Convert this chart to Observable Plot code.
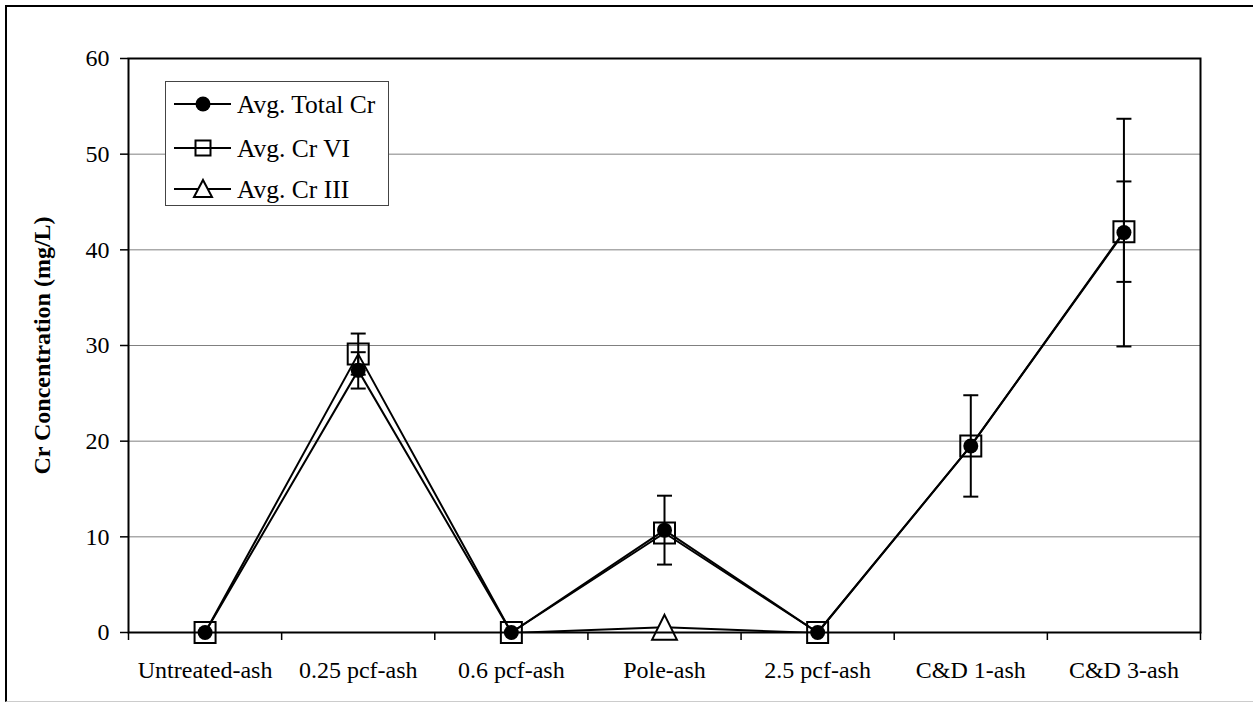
<!DOCTYPE html>
<html><head><meta charset="utf-8">
<script src="https://cdn.jsdelivr.net/npm/d3@7"></script>
<script src="https://cdn.jsdelivr.net/npm/@observablehq/plot@0.6"></script>
<style>
body{margin:0;background:#fff;}
#wrap{position:relative;width:1253px;height:703px;overflow:hidden;font-family:"Liberation Serif","Times New Roman",serif;}
#chart{position:absolute;left:0;top:0;}
#border{position:absolute;left:5px;top:5px;width:1262px;height:697px;border-left:2px solid #000;border-top:2px solid #000;border-bottom:1px solid #ccc;box-sizing:border-box;pointer-events:none}
#legend{position:absolute;left:165px;top:81px;width:224px;height:125px;border:1.5px solid #444;background:#fff;box-sizing:border-box}
</style></head><body>
<div id="wrap"><div id="chart"></div><div id="border"></div><div id="legend"></div></div>
<script>
// ---- data ----
const categories = ["Untreated-ash", "0.25 pcf-ash", "0.6 pcf-ash", "Pole-ash", "2.5 pcf-ash", "C&D 1-ash", "C&D 3-ash"];
const seriesNames = ["Avg. Total Cr", "Avg. Cr VI", "Avg. Cr III"];
const totalCr = [0, 27.4, 0, 10.7, 0, 19.5, 41.8];
const crVI    = [0, 29.1, 0, 10.4, 0, 19.5, 41.9];
// Cr III = total - VI; values below 0 fall outside the axis and are not drawn
const crIII   = [-0.05, -1.7, -0.05, 0.55, -0.05, -0.1, -0.1];
const totalErr = [0, 1.9, 0, 3.6, 0, 5.3, 11.9];
const crVIErr  = [0, 2.15, 0, 0, 0, 0, 5.25];
const yTicks = [0, 10, 20, 30, 40, 50, 60];
const gridTicks = [10, 20, 30, 40, 50];
const yTitle = "Cr Concentration (mg/L)";

// ---- build tables ----
const idx = categories.map((_, i) => i);
const bounds = d3.range(-0.5, categories.length, 1);
const mk = (vals, errs) => vals.map((v, i) => ({i, v, e: errs ? errs[i] : 0}));
const dTotal = mk(totalCr, totalErr);
const dVI = mk(crVI, crVIErr);
const dIII = mk(crIII);
const errRows = [...dTotal, ...dVI].filter(d => d.e > 0);

// custom marker shapes
const capSym = {draw(c){ c.moveTo(-7.5,0); c.lineTo(7.5,0); }};
const squareSym = {draw(c){ c.moveTo(-10.5,-10.5); c.lineTo(10.5,-10.5); c.lineTo(10.5,10.5); c.lineTo(-10.5,10.5); c.closePath(); }};
const triSym = {draw(c){ c.moveTo(0,-12.4); c.lineTo(12.4,12.4); c.lineTo(-12.4,12.4); c.closePath(); }};

const plot = Plot.plot({
  width: 1253, height: 703,
  marginLeft: 128, marginRight: 53, marginTop: 58, marginBottom: 71,
  style: {fontFamily: "Liberation Serif, Times New Roman, serif", fontSize: "24px", background: "transparent", color: "#000"},
  x: {type: "linear", domain: [-0.5, categories.length - 0.5]},
  y: {type: "linear", domain: [0, 60]},
  marks: [
    Plot.ruleY(gridTicks, {stroke: "#808080", strokeWidth: 1}),
    Plot.axisY({ticks: yTicks, tickSize: 8, tickPadding: 11, fontSize: 24, label: null, strokeWidth: 1.5}),
    Plot.axisX({ticks: bounds, tickSize: 8, tickFormat: () => "", label: null, strokeWidth: 1.5}),
    Plot.axisX({ticks: idx, tickSize: 0, tickPadding: 28, tickFormat: i => categories[i], fontSize: 24, label: null}),
    Plot.line(dIII, {x: "i", y: "v", stroke: "#000", strokeWidth: 2, clip: true}),
    Plot.line(dTotal, {x: "i", y: "v", stroke: "#000", strokeWidth: 2}),
    Plot.line(dVI, {x: "i", y: "v", stroke: "#000", strokeWidth: 2}),
    Plot.ruleX(errRows, {x: "i", y1: d => d.v - d.e, y2: d => d.v + d.e, stroke: "#000", strokeWidth: 2}),
    Plot.dot(errRows, {x: "i", y: d => d.v + d.e, symbol: capSym, stroke: "#000", strokeWidth: 2}),
    Plot.dot(errRows, {x: "i", y: d => d.v - d.e, symbol: capSym, stroke: "#000", strokeWidth: 2}),
    Plot.dot(dIII.filter(d => d.v >= 0), {x: "i", y: "v", symbol: triSym, fill: "#fff", stroke: "#000", strokeWidth: 2}),
    Plot.dot(dVI, {x: "i", y: "v", symbol: squareSym, fill: "none", stroke: "#000", strokeWidth: 2}),
    Plot.dot(dTotal, {x: "i", y: "v", r: 7.5, fill: "#000", stroke: "none"}),
    Plot.frame({stroke: "#000", strokeWidth: 2}),
    Plot.text([yTitle], {frameAnchor: "left", textAnchor: "middle", dx: -86, rotate: -90, fontWeight: "bold", fontSize: 24, fill: "#000"})
  ]
});
document.getElementById("chart").appendChild(plot);

// ---- legend ----
const leg = d3.select("#legend").append("svg").attr("width", 222).attr("height", 122)
  .style("font-family", "Liberation Serif, Times New Roman, serif");
const rowY = [22, 66, 107];
const shapes = [
  g => g.append("circle").attr("r", 7.5).attr("fill", "#000"),
  g => g.append("rect").attr("x", -7.5).attr("y", -7.5).attr("width", 15).attr("height", 15).attr("fill", "none").attr("stroke", "#000").attr("stroke-width", 2),
  g => g.append("path").attr("d", "M0,-9L9,8L-9,8Z").attr("fill", "#fff").attr("stroke", "#000").attr("stroke-width", 2)
];
seriesNames.forEach((name, k) => {
  const g = leg.append("g").attr("transform", `translate(0,${rowY[k]})`);
  g.append("line").attr("x1", 8).attr("x2", 65).attr("stroke", "#000").attr("stroke-width", 2);
  shapes[k](g.append("g").attr("transform", "translate(37,0)"));
  g.append("text").attr("x", 71).attr("dy", "0.35em").attr("font-size", 25.5).attr("fill", "#000").text(name);
});
</script>
</body></html>
